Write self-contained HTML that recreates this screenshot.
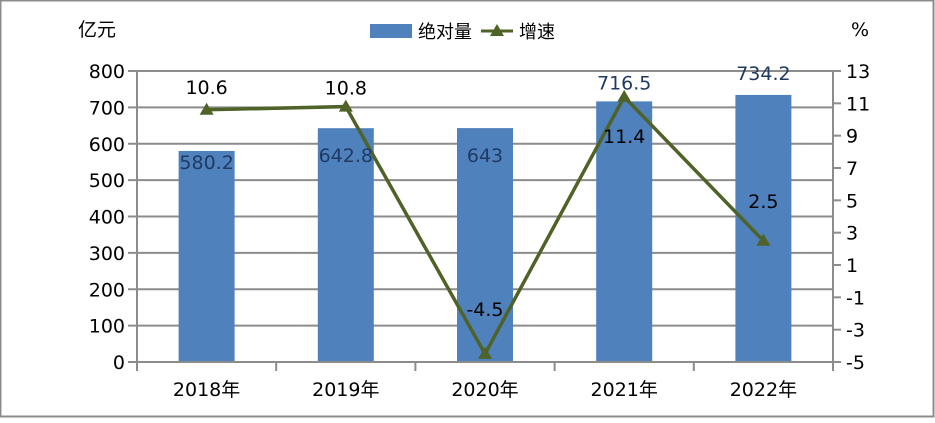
<!DOCTYPE html>
<html><head><meta charset="utf-8"><style>
body{margin:0;background:#fff}
svg text{font-family:"DejaVu Sans","Liberation Sans","Noto Sans CJK SC",sans-serif}
</style></head><body>
<svg width="935" height="418" viewBox="0 0 935 418">
<rect x="0.5" y="0.5" width="933" height="416" fill="#fff" stroke="#8c8c8c" stroke-width="2"/>
<g id="grid"></g><g id="bars"></g><g id="axes"></g><g id="line"></g><g id="labels"></g>
<text x="78" y="36" font-size="19">亿元</text>
<text x="851" y="36" font-size="19">%</text>
<g>
<rect x="370" y="24" width="42" height="14" fill="#4f81bd"/>
<text x="418" y="38" font-size="18">绝对量</text>
<line x1="481" y1="31" x2="513" y2="31" stroke="#4f6228" stroke-width="3"/>
<polygon points="497,24 504,36 490,36" fill="#4f6228"/>
<text x="519" y="38" font-size="18">增速</text>
</g>
</svg>
<script>
const categories=["2018年","2019年","2020年","2021年","2022年"];
const amounts=[580.2,642.8,643,716.5,734.2];
const growth=[10.6,10.8,-4.5,11.4,2.5];
const leftTicks=[0,100,200,300,400,500,600,700,800];
const rightTicks=[-5,-3,-1,1,3,5,7,9,11,13];
const barLabelDy=[11,27,27,-19,-22];
const lineLabelDy=[-23,-19,-45,39,-40];
const NS="http://www.w3.org/2000/svg";
const X0=137,X1=833,Y0=362,Y1=71;
const yL=v=>Y0-(v/800)*(Y0-Y1);
const yR=v=>Y0-((v+5)/18)*(Y0-Y1);
const step=(X1-X0)/categories.length;
const xC=i=>X0+step*(i+0.5);
function mk(t,a,p){const e=document.createElementNS(NS,t);for(const k in a)e.setAttribute(k,a[k]);document.getElementById(p).appendChild(e);return e;}
leftTicks.forEach(v=>{
 if(v>0){const g=mk('line',{x1:X0,x2:X1,y1:yL(v),y2:yL(v),stroke:'#8c8c8c','stroke-width':2},'grid');
 
 }
 const tk=mk('line',{x1:X0-9,x2:X0,y1:yL(v),y2:yL(v),stroke:'#8c8c8c','stroke-width':2},'axes');
 
 
 const t=mk('text',{x:X0-12,y:yL(v)+7,'font-size':19,'text-anchor':'end'},'axes');t.textContent=v;
 
 
});
rightTicks.forEach(v=>{
 const tk=mk('line',{x1:X1,x2:X1+8,y1:yR(v),y2:yR(v),stroke:'#8c8c8c','stroke-width':2},'axes');
 
 
 const t=mk('text',{x:X1+13,y:yR(v)+7,'font-size':19},'axes');t.textContent=v;
 
 
});
let a=mk('line',{x1:X0,x2:X0,y1:Y1,y2:Y0+9,stroke:'#8c8c8c','stroke-width':2},'axes');


a=mk('line',{x1:X1,x2:X1,y1:Y1,y2:Y0,stroke:'#8c8c8c','stroke-width':2},'axes');


a=mk('line',{x1:X0-9,x2:X1,y1:Y0,y2:Y0,stroke:'#8c8c8c','stroke-width':2},'axes');


for(let i=1;i<=categories.length;i++){
 const tk=mk('line',{x1:X0+step*i,x2:X0+step*i,y1:Y0,y2:Y0+9,stroke:'#8c8c8c','stroke-width':2},'axes');
 
 
}
categories.forEach((c,i)=>{
 const t=mk('text',{x:xC(i),y:Y0+34,'font-size':19,'text-anchor':'middle'},'axes');t.textContent=c;
 
 
 const b=mk('rect',{x:xC(i)-28,y:yL(amounts[i]),width:56,height:Y0-yL(amounts[i]),fill:'#4f81bd'},'bars');
 
 
 const bl=mk('text',{x:xC(i),y:yL(amounts[i])+barLabelDy[i]+7,'font-size':19,'text-anchor':'middle',fill:'#1f3b63'},'labels');bl.textContent=amounts[i];
 
 
 const ll=mk('text',{x:xC(i),y:yR(growth[i])+lineLabelDy[i]+7,'font-size':19,'text-anchor':'middle',fill:'#000'},'labels');ll.textContent=growth[i];
 
 
});
const pl=mk('polyline',{points:growth.map((g,i)=>xC(i)+','+yR(g)).join(' '),fill:'none',stroke:'#4f6228','stroke-width':3.5},'line');


growth.forEach((g,i)=>{const x=xC(i),y=yR(g);
 const m=mk('polygon',{points:`${x},${y-7} ${x+7},${y+5} ${x-7},${y+5}`,fill:'#4f6228'},'line');
 
 
});
</script>
</body></html>
